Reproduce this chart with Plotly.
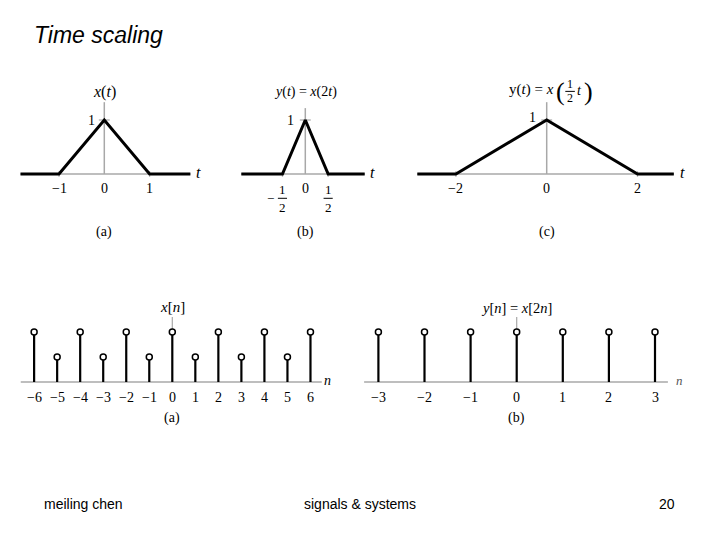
import plotly.graph_objects as go

W, H = 720, 540
OFF = 8              # page body margin offset of the plot div
FW, FH = W - OFF, H - OFF

# ---------------- data ----------------
# (a) x(t) triangle
ta_t = [-1.85, -1, 0, 1, 1.9]
ta_x = [0, 0, 1, 0, 0]
ta_ticks = [-1, 0, 1]
ta_ticklabels = ["\u22121", "0", "1"]
# (b) y(t) = x(2t)
tb_t = [-1.4, -0.5, 0, 0.5, 1.3]
tb_y = [0, 0, 1, 0, 0]
tb_ticks = [-0.5, 0, 0.5]
# (c) y(t) = x(t/2)
tc_t = [-2.85, -2, 0, 2, 2.8]
tc_y = [0, 0, 1, 0, 0]
tc_ticks = [-2, 0, 2]
tc_ticklabels = ["\u22122", "0", "2"]
# discrete (a) x[n]
na = list(range(-6, 7))
xa = [1, 0.5, 1, 0.5, 1, 0.5, 1, 0.5, 1, 0.5, 1, 0.5, 1]
# discrete (b) y[n] = x[2n]
nb = list(range(-3, 4))
yb = [1, 1, 1, 1, 1, 1, 1]

SERIF = "Liberation Serif, Times New Roman, serif"
SANS = "Liberation Sans, Arial, sans-serif"
GRAY = "#a8a8a8"


def xax(lo, hi, org, sc, anchor):
    return dict(domain=[(lo - OFF) / FW, (hi - OFF) / FW], range=[(lo - org) / sc, (hi - org) / sc],
                visible=False, anchor=anchor, fixedrange=True)


def yax(top, bot, org, sc, anchor):
    return dict(domain=[1 - (bot - OFF) / FH, 1 - (top - OFF) / FH],
                range=[(org - bot) / sc, (org - top) / sc],
                visible=False, anchor=anchor, fixedrange=True)


fig = go.Figure()
annotations = []
shapes = []


def line(x, y, ax, color="black", width=3):
    fig.add_trace(go.Scatter(x=x, y=y, mode="lines", xaxis="x" + ax, yaxis="y" + ax,
                             line=dict(color=color, width=width), hoverinfo="skip",
                             showlegend=False))


def text(t, x, y, ax, size=14, xanchor="center", family=SERIF, color="black"):
    annotations.append(dict(text=t, x=x, y=y, xref="x" + ax, yref="y" + ax,
                            showarrow=False, xanchor=xanchor, yanchor="middle",
                            font=dict(family=family, size=size, color=color)))


# ---------------- continuous panels ----------------
def cont_panel(ax, t, v, vtop, ticks):
    line([t[0], t[-1]], [0, 0], ax, GRAY, 1.5)
    line([0, 0], [0, vtop], ax, GRAY, 1.5)
    line([-0.12, 0.12], [1, 1], ax, GRAY, 1.2)
    for tk in ticks:
        if tk != 0:
            line([tk, tk], [-0.05, 0.05], ax, GRAY, 1.2)
    line(t, v, ax, "black", 3)


cont_panel("", ta_t, ta_x, 1.33, ta_ticks)
cont_panel("2", tb_t, tb_y, 1.22, tb_ticks)
cont_panel("3", tc_t, tc_y, 1.33, tc_ticks)

# panel (a) texts
text("<i>x</i>(<i>t</i>)", 0, 1.52, "", size=16)
text("1", -0.17, 1.0, "", xanchor="right")
text("<i>t</i>", 2.09, 0.02, "", size=16)
for tk, lb in zip(ta_ticks, ta_ticklabels):
    text(lb, tk, -0.26, "")
text("(a)", 0, -1.07, "")

# panel (b) texts
text("<i>y</i>(<i>t</i>) = <i>x</i>(2<i>t</i>)", 0, 1.52, "2")
text("1", -0.2, 1.0, "2", xanchor="right")
text("<i>t</i>", 1.48, 0.02, "2", size=16)
text("0", 0, -0.26, "2")
for tk in tb_ticks:
    if tk != 0:
        text("1", tk, -0.28, "2", size=13)
        text("2", tk, -0.62, "2", size=13)
        shapes.append(dict(type="line", xref="x2", yref="y2", x0=tk - 0.1, x1=tk + 0.1,
                           y0=-0.45, y1=-0.45, line=dict(color="black", width=1)))
text("\u2212", -0.77, -0.45, "2", size=13)
text("(b)", 0, -1.08, "2")

# panel (c) texts
text("y(<i>t</i>) = <i>x</i>", 0.2, 1.56, "3", size=15, xanchor="right")
text("(", 0.31, 1.53, "3", size=26)
text("1", 0.51, 1.66, "3", size=12)
text("2", 0.51, 1.40, "3", size=12)
shapes.append(dict(type="line", xref="x3", yref="y3", x0=0.41, x1=0.62,
                   y0=1.53, y1=1.53, line=dict(color="black", width=1)))
text("<i>t</i>", 0.73, 1.55, "3", size=14)
text(")", 0.91, 1.53, "3", size=26)
text("1", -0.19, 1.05, "3", xanchor="right")
text("<i>t</i>", 3.0, 0.02, "3", size=16)
for tk, lb in zip(tc_ticks, tc_ticklabels):
    text(lb, tk, -0.27, "3")
text("(c)", 0, -1.07, "3")


# ---------------- discrete panels ----------------
def disc_panel(ax, n, v, lo, hi):
    line([lo, hi], [0, 0], ax, GRAY, 1.5)
    line([0, 0], [1, 1.3], ax, GRAY, 1.2)
    sx, sy = [], []
    for k, val in zip(n, v):
        sx += [k, k, None]
        sy += [0, val, None]
    line(sx, sy, ax, "black", 2.2)
    fig.add_trace(go.Scatter(x=n, y=v, mode="markers", xaxis="x" + ax, yaxis="y" + ax,
                             marker=dict(symbol="circle", size=6, color="white",
                                         line=dict(color="black", width=1.5)),
                             hoverinfo="skip", showlegend=False, cliponaxis=False))


disc_panel("4", na, xa, -6.58, 6.49)
text("<i>x</i>[<i>n</i>]", 0, 1.5, "4", size=15)
text("<i>n</i>", 6.76, 0.04, "4", size=14)
for k in na:
    text(str(k).replace("-", "\u2212"), k, -0.31, "4")
text("(a)", 0, -0.71, "4")

disc_panel("5", nb, yb, -3.31, 3.28)
text("<i>y</i>[<i>n</i>] = <i>x</i>[2<i>n</i>]", 0, 1.48, "5", size=14.5)
text("<i>n</i>", 3.54, 0.04, "5", size=13, color="#555")
for k in nb:
    text(str(k).replace("-", "\u2212"), k, -0.31, "5")
text("(b)", 0, -0.71, "5")


# ---------------- slide texts ----------------
def slide_text(t, px, py, size, xanchor):
    annotations.append(dict(text=t, x=(px - OFF) / FW, y=1 - (py - OFF) / FH,
                            xref="paper", yref="paper", xanchor=xanchor, yanchor="middle",
                            showarrow=False, font=dict(family=SANS, size=size, color="black")))


slide_text("<i>Time scaling</i>", 32, 35, 23, "left")
slide_text("meiling chen", 42, 504, 14, "left")
slide_text("signals &amp; systems", 360, 504, 14, "center")
slide_text("20", 677, 504, 14, "right")

fig.update_layout(
    width=FW, height=FH, margin=dict(l=0, r=0, t=0, b=0),
    paper_bgcolor="white", plot_bgcolor="rgba(0,0,0,0)",
    showlegend=False,
    xaxis=xax(10, 215, 104.3, 45.3, "y"), yaxis=yax(55, 245, 174, 54, "x"),
    xaxis2=xax(232, 395, 305.3, 45.7, "y2"), yaxis2=yax(55, 245, 174, 54, "x2"),
    xaxis3=xax(405, 705, 546.7, 45.4, "y3"), yaxis3=yax(55, 245, 174, 54, "x3"),
    xaxis4=xax(10, 345, 172.3, 23.03, "y4"), yaxis4=yax(285, 430, 382, 50, "x4"),
    xaxis5=xax(355, 705, 516.7, 46.1, "y5"), yaxis5=yax(285, 430, 382, 50, "x5"),
    annotations=annotations, shapes=shapes,
)

fig.write_html("out.html")
